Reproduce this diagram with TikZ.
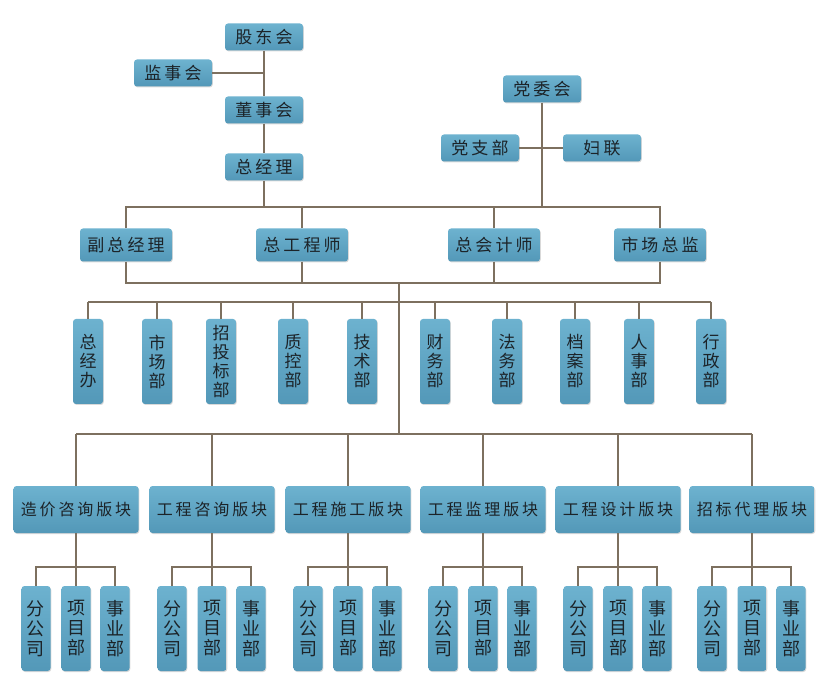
\documentclass[tikz,border=0pt]{standalone}
\usepackage{fontspec}
\newfontfamily\cjk[LetterSpace=18]{Noto Sans CJK SC}
\newfontfamily\cjkv{Noto Sans CJK SC}
\usetikzlibrary{shadows}
\definecolor{boxtop}{HTML}{6DB2CF}
\definecolor{boxbot}{HTML}{5398B8}
\definecolor{txt}{HTML}{1C2328}
\definecolor{ln}{HTML}{7D705F}
\tikzset{
  basebox/.style={rounded corners=3pt, top color=boxtop, bottom color=boxbot, draw=none, text=txt, inner sep=0pt,
    drop shadow={shadow xshift=0.8pt, shadow yshift=-1pt, opacity=0.3}},
  topbox/.style={basebox, minimum width=78pt, minimum height=27pt, font=\cjk\fontsize{17}{19}\selectfont},
  midbox/.style={basebox, minimum width=92pt, minimum height=33pt, font=\cjk\fontsize{17}{19}\selectfont},
  platebox/.style={basebox, minimum width=125pt, minimum height=47pt, font=\cjk\fontsize{16}{18}\selectfont},
  deptbox/.style={basebox, minimum width=30pt, minimum height=85pt, align=center, font=\cjkv\fontsize{17}{19}\selectfont},
  subbox/.style={basebox, minimum width=29pt, minimum height=85pt, align=center, font=\cjkv\fontsize{18}{20}\selectfont},
  conn/.style={draw=ln, line width=1.8pt}
}
\begin{document}
\begin{tikzpicture}[x=1pt,y=-1pt]
\useasboundingbox (0,0) rectangle (831,687);
% top
\node[topbox] (gd) at (264,37) {股东会};
\node[topbox] (js) at (173,73) {监事会};
\node[topbox] (ds) at (264,110) {董事会};
\node[topbox] (zjl) at (264,167) {总经理};
\node[topbox] (dwh) at (542,89) {党委会};
\node[topbox] (dzb) at (480,148) {党支部};
\node[topbox] (fl) at (602,148) {妇联};
% level 2
\node[midbox] (fzjl) at (126,245) {副总经理};
\node[midbox] (zgcs) at (302,245) {总工程师};
\node[midbox] (zkjs) at (494,245) {总会计师};
\node[midbox] (scjz) at (660,245) {市场总监};
% depts
\node[deptbox] (d1) at (88,361.5) {总\\经\\办};
\node[deptbox] (d2) at (157,361.5) {市\\场\\部};
\node[deptbox] (d3) at (221,361.5) {招\\投\\标\\部};
\node[deptbox] (d4) at (293,361.5) {质\\控\\部};
\node[deptbox] (d5) at (362,361.5) {技\\术\\部};
\node[deptbox] (d6) at (435,361.5) {财\\务\\部};
\node[deptbox] (d7) at (507,361.5) {法\\务\\部};
\node[deptbox] (d8) at (575,361.5) {档\\案\\部};
\node[deptbox] (d9) at (639,361.5) {人\\事\\部};
\node[deptbox] (d10) at (711,361.5) {行\\政\\部};
% plates
\node[platebox] (p1) at (76,509.5) {造价咨询版块};
\node[platebox] (p2) at (212,509.5) {工程咨询版块};
\node[platebox] (p3) at (348,509.5) {工程施工版块};
\node[platebox] (p4) at (483,509.5) {工程监理版块};
\node[platebox] (p5) at (618,509.5) {工程设计版块};
\node[platebox] (p6) at (752,509.5) {招标代理版块};
\foreach \i/\c in {1/76,2/212,3/348,4/483,5/618,6/752}{
  \node[subbox] (s\i a) at (\c-40,628.5) {分\\公\\司};
  \node[subbox] (s\i b) at (\c,628.5) {项\\目\\部};
  \node[subbox] (s\i c) at (\c+39,628.5) {事\\业\\部};
}
% bus coordinates
\coordinate (h1) at (0,207);
\coordinate (h2) at (0,283);
\coordinate (h3) at (0,302);
\coordinate (h4) at (0,434);
\coordinate (tr) at (399,0);
\coordinate (h5) at (0,567);
\draw[conn] (gd.south) -- (ds.north);
\draw[conn] (js.east) -- (js.east -| gd.south);
\draw[conn] (ds.south) -- (zjl.north);
\draw[conn] (zjl.south) -- (zjl.south |- h1);
\draw[conn] (dwh.south) -- (dwh.south |- h1);
\draw[conn] (dzb.east) -- (fl.west);
\draw[conn] (fzjl.north) -- (fzjl.north |- h1) -- (scjz.north |- h1) -- (scjz.north);
\draw[conn] (zgcs.north) -- (zgcs.north |- h1);
\draw[conn] (zkjs.north) -- (zkjs.north |- h1);
\draw[conn] (fzjl.south) -- (fzjl.south |- h2) -- (scjz.south |- h2) -- (scjz.south);
\draw[conn] (zgcs.south) -- (zgcs.south |- h2);
\draw[conn] (zkjs.south) -- (zkjs.south |- h2);
\draw[conn] (tr |- h2) -- (tr |- h4);
\draw[conn] (d1.north |- h3) -- (d10.north |- h3);
\foreach \i in {1,...,10}{\draw[conn] (d\i.north) -- (d\i.north |- h3);}
\draw[conn] (p1.north |- h4) -- (p6.north |- h4);
\foreach \i in {1,...,6}{
  \draw[conn] (p\i.north) -- (p\i.north |- h4);
  \draw[conn] (p\i.south) -- (s\i b.north);
  \draw[conn] (s\i a.north) -- (s\i a.north |- h5) -- (s\i c.north |- h5) -- (s\i c.north);
}
\end{tikzpicture}
\end{document}
